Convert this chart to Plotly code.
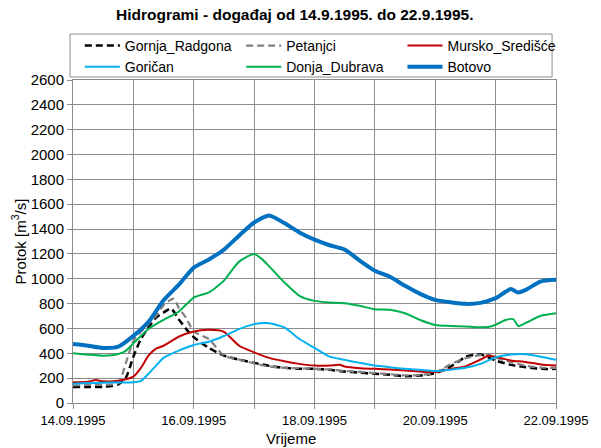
import pandas as pd
import plotly.graph_objects as go

# Discharge hydrographs, 14.09.1995 - 22.09.1995 (hours since 14.09.1995 00:00, m3/s)
gornja_radgona_h = [0, 6, 12, 18, 21, 24, 27, 30, 33, 36, 39, 42, 45, 48, 54, 60, 66, 72, 78, 84, 90, 96,
                    102, 108, 114, 120, 126, 132, 138, 144, 150, 153, 156, 162, 168, 174, 180, 186, 192]
gornja_radgona_q = [128, 128, 130, 149, 203, 373, 515, 608, 688, 728, 760, 675, 595, 530, 443, 381, 349, 323, 299, 283, 275, 275,
                    267, 253, 245, 235, 227, 216, 221, 240, 293, 330, 372, 390, 341, 307, 288, 275, 275]

petanjci_h = [0, 6, 12, 18, 21, 24, 27, 30, 33, 36, 40, 42, 45, 48, 54, 60, 66, 72, 78, 84, 90, 96,
              102, 108, 114, 120, 126, 132, 138, 144, 150, 156, 162, 165, 168, 174, 180, 186, 192]
petanjci_q = [141, 145, 147, 160, 320, 501, 573, 635, 701, 787, 840, 768, 683, 575, 515, 381, 349, 320, 293, 283, 280, 275,
              270, 258, 250, 240, 232, 222, 225, 245, 310, 360, 385, 390, 365, 330, 300, 285, 283]

mursko_sredisce_h = [0, 6, 9, 12, 18, 24, 27, 30, 33, 36, 42, 48, 54, 60, 66, 72, 78, 84, 90, 96,
                     102, 106, 108, 114, 120, 126, 132, 138, 144, 150, 156, 162, 165, 168, 174, 180, 186, 192]
mursko_sredisce_q = [168, 172, 185, 175, 180, 213, 283, 381, 437, 461, 533, 576, 589, 573, 461, 408, 363, 336, 315, 301,
                     301, 307, 293, 280, 275, 269, 261, 253, 250, 274, 295, 350, 380, 372, 343, 330, 310, 302]

gorican_h = [0, 6, 12, 18, 24, 27, 30, 33, 36, 42, 48, 54, 60, 66, 72, 78, 84, 90, 96,
             102, 108, 114, 120, 126, 132, 138, 144, 150, 156, 162, 168, 174, 180, 186, 192]
gorican_q = [155, 160, 163, 165, 167, 178, 235, 301, 363, 421, 467, 493, 539, 595, 635, 642, 608, 515, 443,
             373, 347, 323, 301, 288, 275, 267, 258, 268, 283, 315, 368, 390, 392, 373, 347]

donja_dubrava_h = [0, 6, 12, 18, 21, 24, 30, 36, 42, 48, 54, 60, 66, 72, 75, 78, 84, 90, 96, 102, 108, 114, 120,
                   126, 132, 138, 144, 150, 156, 162, 165, 168, 172, 175, 177, 180, 186, 192]
donja_dubrava_q = [400, 389, 381, 395, 420, 480, 595, 669, 735, 849, 890, 985, 1138, 1200, 1160, 1100, 971, 863, 822, 809, 803, 782, 755,
                   750, 722, 668, 628, 620, 615, 609, 612, 630, 668, 675, 620, 645, 702, 722]

botovo_h = [0, 6, 12, 18, 24, 30, 36, 42, 48, 54, 60, 66, 72, 78, 84, 90, 96, 102, 108, 114, 120,
            126, 132, 138, 144, 150, 156, 162, 168, 174, 177, 180, 186, 192]
botovo_q = [475, 461, 443, 453, 540, 653, 827, 950, 1090, 1155, 1235, 1347, 1453, 1510, 1448, 1373, 1315, 1270, 1235, 1146, 1065,
            1016, 943, 878, 830, 811, 798, 806, 844, 917, 890, 911, 979, 992]

y_ticks = list(range(0, 2601, 200))
x_tick_days = ["1995-09-14", "1995-09-16", "1995-09-18", "1995-09-20", "1995-09-22"]

start = pd.Timestamp("1995-09-14")


def to_time(hours):
    return start + pd.to_timedelta(hours, unit="h")


# (name, hours, flow, line style, legend column)
series = [
    ("Gornja_Radgona", gornja_radgona_h, gornja_radgona_q, dict(color="#000000", width=2.5, dash="7px,4px"), "legend"),
    ("Petanjci", petanjci_h, petanjci_q, dict(color="#808080", width=2.2, dash="7px,4px"), "legend2"),
    ("Mursko_Središće", mursko_sredisce_h, mursko_sredisce_q, dict(color="#c00000", width=2), "legend3"),
    ("Goričan", gorican_h, gorican_q, dict(color="#00b0f0", width=2), "legend"),
    ("Donja_Dubrava", donja_dubrava_h, donja_dubrava_q, dict(color="#00b050", width=2), "legend2"),
    ("Botovo", botovo_h, botovo_q, dict(color="#0070c0", width=4), "legend3"),
]

fig = go.Figure()
for name, hrs, q, line, leg in series:
    fig.add_trace(go.Scatter(x=to_time(hrs), y=q, mode="lines", name=name, legend=leg,
                             line=dict(shape="spline", smoothing=0.6, **line)))

grid = "#8c8c8c"
font = "Liberation Sans, Arial, sans-serif"

# legend frame around the three legend columns
fig.add_shape(type="rect", xref="paper", yref="paper",
              x0=-0.0061, x1=0.9919, y0=1.0093, y1=1.1424,
              line=dict(color=grid, width=1), fillcolor="white", layer="above")


def legend_column(x_px):
    return dict(orientation="v", x=(x_px - 73) / 494, y=1.155, xanchor="left", yanchor="top",
                itemwidth=35, borderwidth=0, bgcolor="rgba(0,0,0,0)",
                font=dict(family=font, size=14), traceorder="normal")


fig.update_layout(
    width=601, height=448,
    margin=dict(l=73, r=34, t=80, b=45),
    paper_bgcolor="white", plot_bgcolor="white",
    font=dict(family=font, size=13, color="#000000"),
    showlegend=True,
    legend=legend_column(80),
    legend2=legend_column(245),
    legend3=legend_column(410),
    xaxis=dict(
        type="date",
        range=[x_tick_days[0], x_tick_days[-1]],
        tickvals=x_tick_days, tickformat="%d.%m.%Y",
        tickfont=dict(size=13),
        showgrid=True, gridcolor=grid, gridwidth=1,
        ticks="outside", ticklen=5, tickcolor=grid,
        minor=dict(dtick=86400000, showgrid=True, gridcolor=grid, ticks="outside", ticklen=5, tickcolor=grid),
        showline=True, linecolor=grid, linewidth=1, mirror=True,
        zeroline=False,
    ),
    yaxis=dict(
        range=[0, 2600], tickvals=y_ticks,
        tickfont=dict(size=15),
        showgrid=True, gridcolor=grid, gridwidth=1,
        ticks="outside", ticklen=5, tickcolor=grid,
        showline=True, linecolor=grid, linewidth=1, mirror=True,
        zeroline=False,
    ),
    annotations=[
        dict(text="<b>Hidrogrami - događaj od 14.9.1995. do 22.9.1995.</b>", xref="paper", yref="paper",
             x=0.5, y=1, xshift=-20, yshift=66, xanchor="center", yanchor="middle", showarrow=False,
             font=dict(size=15.5)),
        dict(text="Vrijeme", xref="paper", yref="paper", x=0.5, y=0, xshift=-24, yshift=-35,
             xanchor="center", yanchor="middle", showarrow=False, font=dict(size=15)),
        dict(text="Protok [m<sup>3</sup>/s]", xref="paper", yref="paper", x=0, y=0.5, xshift=-54,
             xanchor="center", yanchor="middle", textangle=-90, showarrow=False, font=dict(size=15)),
    ],
)

fig.write_html("out.html", config={"displayModeBar": False})
